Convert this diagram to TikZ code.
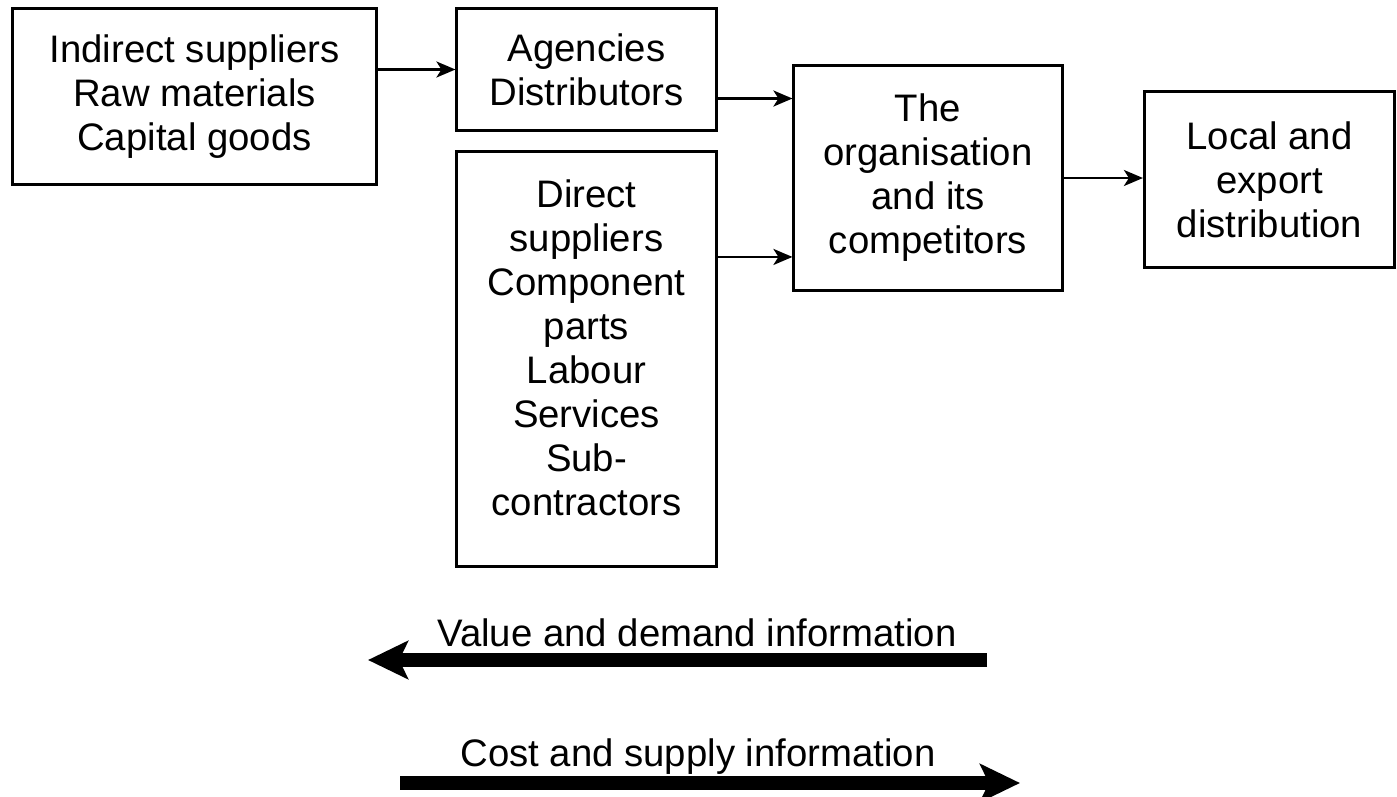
\documentclass[tikz,border=0pt]{standalone}
\usepackage{fontspec}
\setmainfont{Liberation Sans}
\usetikzlibrary{arrows.meta}

\tikzset{
  box/.style = {draw, line width = 0.85pt, align = center, inner sep = 0pt,
    font = \fontsize{10.9}{12.5}\selectfont},
  link/.style = {-{Stealth[length = 1.9mm, width = 1.6mm, inset = 0.5mm]}, line width = 0.7pt},
  flow/.style = {-{Stealth[length = 4mm, width = 3.8mm, inset = 0.9mm]}, line width = 0.14cm},
  caption/.style = {font = \fontsize{10.9}{12.5}\selectfont, anchor = base}
}

\begin{document}
\begin{tikzpicture}[x = 0.01cm, y = -0.01cm]
\useasboundingbox (0, 0) rectangle (1397, 797);
%\draw[very thin, color = gray, step = 100](0, 0) grid (1397, 797);
\node (indirect) at (194.5, 96.5) [box, minimum width = 3.63cm, minimum height = 1.75cm]
  {Indirect suppliers\\Raw materials\\Capital goods};
\node (agency) at (586.5, 69.5) [box, minimum width = 2.59cm, minimum height = 1.21cm]
  {Agencies\\Distributors};
\node (direct) at (586.5, 359) [box, minimum width = 2.59cm, minimum height = 4.14cm,
  text depth = 2.3mm]
  {Direct\\suppliers\\Component\\parts\\Labour\\Services\\Sub-\\contractors};
\node (firm) at (928, 178) [box, minimum width = 2.68cm, minimum height = 2.24cm]
  {The\\organisation\\and its\\competitors};
\node (market) at (1269.5, 179.5) [box, minimum width = 2.5cm, minimum height = 1.75cm]
  {Local and\\export\\distribution};

\draw [link] (indirect.east |- agency.west) -- (agency.west);
\coordinate (agency out) at ([yshift = -0.29cm]agency.east);
\draw [link] (agency out) -- (agency out -| firm.west);
\coordinate (direct out) at ([yshift = 1.02cm]direct.east);
\draw [link] (direct out) -- (direct out -| firm.west);
\draw [link] (firm.east) -- (firm.east -| market.west);

% information flows
\coordinate (demand start) at (987, 660);
\coordinate (demand end) at (368, 660);
\draw [flow] (demand start) -- (demand end);
\node (demand) at (697, 646) [caption] {Value and demand information};
\coordinate (supply start) at (400, 783);
\coordinate (supply end) at (1020, 783);
\draw [flow] (supply start) -- (supply end);
\node (supply) at (698, 766) [caption] {Cost and supply information};
\end{tikzpicture}
\end{document}
